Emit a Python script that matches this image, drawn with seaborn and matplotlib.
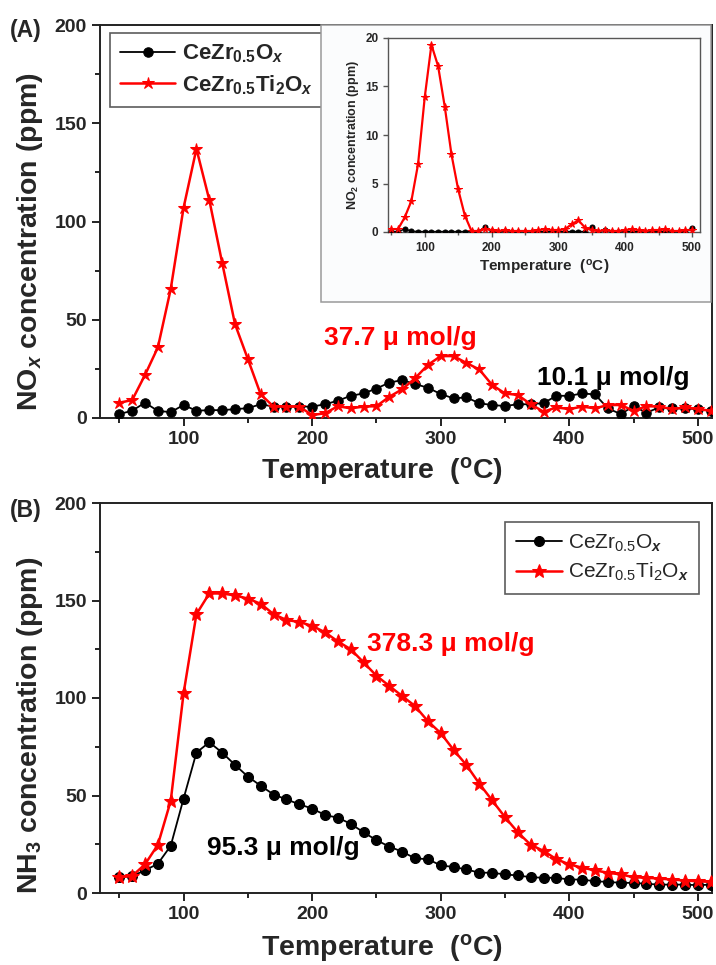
import numpy as np
import pandas as pd
import matplotlib
matplotlib.use("Agg")
import matplotlib.pyplot as plt
from matplotlib.ticker import MultipleLocator
from matplotlib.patches import Rectangle
import seaborn as sns

# ---------------- data ----------------
temp_a = list(range(50, 520, 10))
nox_cezr = [2, 3.7, 7.8, 3.6, 3, 6.6, 3.7, 4, 4, 4.5, 5, 7, 5.8, 5.8, 5.8, 5.8,
            7, 8.8, 11.3, 12.5, 15, 18, 19.3, 17.3, 15.4, 12.2, 10, 10.5, 7.5,
            6.6, 6.1, 7, 7, 7.6, 11.3, 11.3, 12.5, 12, 4.9, 2, 6, 2.7, 5.4,
            4.9, 4.9, 4.5, 3.7]
nox_cezrti = [7.8, 9.1, 21.9, 35.9, 65.6, 107, 137, 111, 79, 47.8, 30, 12,
              5.8, 5.8, 5.8, 1.5, 2.4, 6, 4.9, 5.8, 6, 10.8, 14.6, 20.2, 27,
              31.5, 31.5, 28, 24.7, 16.8, 12.5, 11.7, 7, 3.2, 5.4, 4.5, 5.8,
              4.9, 6.6, 6.6, 3.7, 6, 5.8, 4.5, 5.4, 4.5, 3.7]

temp_in = list(range(50, 510, 10))
no2_cezr = [0.05, 0.05, 0.3, 0.1, 0.05, 0.05, 0.05, 0.05, 0.05, 0.05, 0.05,
            0.05, 0.05, 0.05, 0.5, 0.1, 0.05, 0.1, 0.05, 0.05, 0.05, 0.05,
            0.05, 0.05, 0.05, 0.05, 0.05, 0.05, 0.05, 0.05, 0.5, 0.05, 0.2,
            0.05, 0.05, 0.05, 0.05, 0.05, 0.05, 0.05, 0.05, 0.05, 0.05, 0.05,
            0.05, 0.4]
no2_cezrti = [0.3, 0.3, 1.5, 3.2, 7.0, 13.9, 19.3, 17.1, 12.9, 8.0, 4.4, 1.7,
              0.1, 0.1, 0.3, 0.2, 0.1, 0.2, 0.1, 0.1, 0.1, 0.1, 0.2, 0.3, 0.2,
              0.2, 0.3, 0.8, 1.2, 0.45, 0.2, 0.1, 0.2, 0.1, 0.1, 0.2, 0.3, 0.2,
              0.1, 0.2, 0.2, 0.3, 0.1, 0.1, 0.2, 0.2]

temp_b = list(range(50, 520, 10))
nh3_cezr = [8.1, 8.7, 11.6, 15, 24.2, 48.4, 72, 77.3, 72, 65.7, 59.7, 55,
            50.5, 48, 45.5, 43.3, 40, 38.6, 35.5, 31.1, 27.1, 23.8, 21.2,
            17.8, 17.3, 14.2, 13.3, 12.1, 10.4, 10.4, 9.5, 9.0, 8.1, 7.8,
            7.8, 6.9, 6.9, 6.0, 5.7, 5.2, 5.2, 4.7, 4.3, 4.3, 4.3, 4.0, 4.3]
nh3_cezrti = [8.1, 8.7, 14.7, 24.7, 47.2, 102.4, 143, 153.6, 153.6, 152.6,
              151, 148.3, 143, 140, 139, 137, 133.7, 129, 125, 118.3, 111.4,
              106.2, 101, 95.9, 88.1, 82, 73.4, 65.6, 56.1, 47.5, 38.9, 31.1,
              24.7, 21.6, 17.3, 14.7, 13, 11.6, 10.4, 9.5, 8.1, 7.8, 7.4, 6.9,
              6.4, 6, 5.7]

x_ticks = [100, 200, 300, 400, 500]
y_ticks = [0, 50, 100, 150, 200]
y_ticks_inset = [0, 5, 10, 15, 20]

uptake_a = ["37.7 \u03bc mol/g", "10.1 \u03bc mol/g"]
uptake_b = ["378.3 \u03bc mol/g", "95.3 \u03bc mol/g"]

# ---------------- style ----------------
sns.set_style("ticks")
plt.rcParams["font.family"] = ["Liberation Sans", "DejaVu Sans"]
plt.rcParams["font.weight"] = "bold"
plt.rcParams["axes.labelweight"] = "bold"
plt.rcParams["mathtext.fontset"] = "custom"
plt.rcParams["mathtext.rm"] = "Liberation Sans:bold"
plt.rcParams["mathtext.bf"] = "Liberation Sans:bold"
plt.rcParams["mathtext.it"] = "Liberation Sans:italic:bold"
plt.rcParams["mathtext.sf"] = "Liberation Sans"
plt.rcParams["mathtext.cal"] = "Liberation Sans:italic"

RED = "#ff0000"
BLACK = "#000000"
W, H = 716, 965
fig = plt.figure(figsize=(W / 100, H / 100), dpi=100)


def px_axes(left, top, right, bottom):
    return fig.add_axes([left / W, 1 - bottom / H, (right - left) / W, (bottom - top) / H])


def style_axes(ax, xminor=50, yminor=25, lw=1.4, tsize=14, spine_color="#222222"):
    for s in ax.spines.values():
        s.set_visible(True)
        s.set_linewidth(lw)
        s.set_color(spine_color)
    ax.xaxis.set_minor_locator(MultipleLocator(xminor))
    ax.yaxis.set_minor_locator(MultipleLocator(yminor))
    ax.tick_params(which="major", direction="out", length=6, width=lw,
                   labelsize=tsize, top=False, right=False, color=spine_color)
    ax.tick_params(which="minor", direction="out", length=3.5, width=lw,
                   top=False, right=False, color=spine_color)
    for lab in ax.get_xticklabels() + ax.get_yticklabels():
        lab.set_fontweight("bold")


def draw_pair(ax, x, yb, yr, ms_dot, ms_star, lw_b, lw_r, lab_b, lab_r):
    df_b = pd.DataFrame({"T": x, "c": yb})
    df_r = pd.DataFrame({"T": x, "c": yr})
    sns.lineplot(data=df_b, x="T", y="c", ax=ax, color=BLACK, lw=lw_b,
                 marker="o", markersize=ms_dot, markeredgecolor=BLACK,
                 markerfacecolor=BLACK, label=lab_b, zorder=3)
    sns.lineplot(data=df_r, x="T", y="c", ax=ax, color=RED, lw=lw_r,
                 marker="*", markersize=ms_star, markeredgecolor=RED,
                 markerfacecolor=RED, label=lab_r, zorder=4)


lab_b_bold = r"CeZr$_{0.5}$O$_{x}$"
lab_r_bold = r"CeZr$_{0.5}$Ti$_{2}$O$_{x}$"
lab_b_reg = r"CeZr$_{\mathregular{0.5}}$O$_{\mathcal{x}}$"
lab_r_reg = r"CeZr$_{\mathregular{0.5}}$Ti$_{\mathregular{2}}$O$_{\mathcal{x}}$"
xlabel = r"Temperature  ($^{\mathrm{o}}$C)"

# ---------------- panel A: NOx ----------------
axA = px_axes(100, 25, 712, 418)
draw_pair(axA, temp_a, nox_cezr, nox_cezrti, 6.8, 9, 1.3, 1.8, lab_b_bold, lab_r_bold)
axA.set_xlim(35, 511)
axA.set_ylim(0, 200)
axA.set_xticks(x_ticks)
axA.set_yticks(y_ticks)
style_axes(axA)
axA.set_xlabel(xlabel, fontsize=20.5, fontweight="bold")
axA.set_ylabel(r"NO$_{x}$ concentration (ppm)", fontsize=20.5, fontweight="bold")
axA.xaxis.set_label_coords(0.46, -0.095)
axA.yaxis.set_label_coords(-0.09, 0.45)
legA = axA.legend(loc="upper left", bbox_to_anchor=(0.016, 0.98), frameon=True,
                  fancybox=False, edgecolor="#333333", fontsize=16,
                  handlelength=2.5, handletextpad=0.3, borderpad=0.45,
                  labelspacing=0.35, borderaxespad=0)
legA.get_frame().set_linewidth(1.2)
for t in legA.get_texts():
    t.set_fontweight("bold")
axA.text(209, 40.7, uptake_a[0], color=RED, fontsize=19, fontweight="bold",
         va="center", ha="left")
axA.text(375, 20.3, uptake_a[1], color=BLACK, fontsize=19, fontweight="bold",
         va="center", ha="left")
fig.text(10 / W, 1 - 30 / H, "(A)", fontsize=16.5, fontweight="bold",
         va="center", ha="left")

# light frame around the NO2 inset
fig.patches.append(Rectangle((321 / W, 1 - 302 / H), (711 - 321) / W, (302 - 25) / H,
                             transform=fig.transFigure, fill=True,
                             facecolor="#fbfcfd", edgecolor="#9a9a9a", lw=1.1,
                             zorder=1))

# ---------------- inset: NO2 ----------------
axI = px_axes(388, 38, 700, 232)
axI.set_zorder(5)
draw_pair(axI, temp_in, no2_cezr, no2_cezrti, 3.6, 5.5, 1.0, 1.6, None, None)
if axI.get_legend() is not None:
    axI.get_legend().remove()
axI.set_xlim(45, 512)
axI.set_ylim(0, 20)
axI.set_xticks(x_ticks)
axI.set_yticks(y_ticks_inset)
style_axes(axI, xminor=50, yminor=5, lw=1.0, tsize=8.5, spine_color="#555555")
axI.tick_params(which="major", length=3.5)
axI.tick_params(which="minor", length=2)
axI.set_xlabel(xlabel, fontsize=11, fontweight="bold", labelpad=3)
axI.set_ylabel(r"NO$_{2}$ concentration (ppm)", fontsize=9, fontweight="bold", labelpad=3)

# ---------------- panel B: NH3 ----------------
axB = px_axes(100, 503, 712, 893)
draw_pair(axB, temp_b, nh3_cezr, nh3_cezrti, 7.2, 10, 1.3, 1.8, lab_b_reg, lab_r_reg)
axB.set_xlim(35, 511)
axB.set_ylim(0, 200)
axB.set_xticks(x_ticks)
axB.set_yticks(y_ticks)
style_axes(axB)
axB.set_xlabel(xlabel, fontsize=20.5, fontweight="bold")
axB.set_ylabel(r"NH$_{3}$ concentration (ppm)", fontsize=20.5, fontweight="bold")
axB.xaxis.set_label_coords(0.46, -0.1)
axB.yaxis.set_label_coords(-0.09, 0.43)
legB = axB.legend(loc="upper right", bbox_to_anchor=(0.979, 0.951), frameon=True,
                  fancybox=False, edgecolor="#333333", fontsize=15,
                  handlelength=2.2, handletextpad=0.3, borderpad=0.5,
                  labelspacing=0.35, borderaxespad=0)
legB.get_frame().set_linewidth(1.2)
for t in legB.get_texts():
    t.set_fontweight("normal")
axB.text(243, 127.8, uptake_b[0], color=RED, fontsize=19, fontweight="bold",
         va="center", ha="left")
axB.text(118.6, 23.2, uptake_b[1], color=BLACK, fontsize=19, fontweight="bold",
         va="center", ha="left")
fig.text(10 / W, 1 - 510 / H, "(B)", fontsize=16.5, fontweight="bold",
         va="center", ha="left")

fig.savefig("out.png", dpi=100, facecolor="white")
